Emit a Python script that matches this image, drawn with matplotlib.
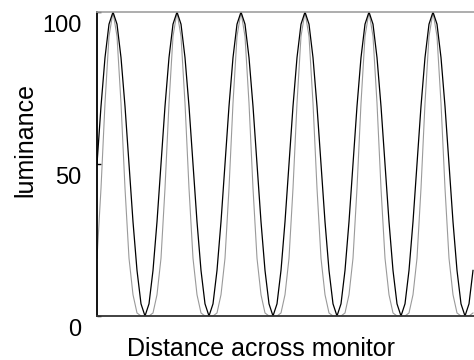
import matplotlib
matplotlib.use("Agg")
import matplotlib.pyplot as plt
import matplotlib.transforms as mtransforms
import numpy as np

plt.rcParams['font.family'] = ['Liberation Sans', 'DejaVu Sans']

# sample positions across the monitor (arbitrary distance units, 4 per step)
distance = np.arange(0, 380, 4)

# luminance of the linear (black) profile
lum_black = [
    50, 69, 85, 96, 100, 96, 85, 69, 50, 31, 15, 4, 0, 4, 15, 31,
    50, 69, 85, 96, 100, 96, 85, 69, 50, 31, 15, 4, 0, 4, 15, 31,
    50, 69, 85, 96, 100, 96, 85, 69, 50, 31, 15, 4, 0, 4, 15, 31,
    50, 69, 85, 96, 100, 96, 85, 69, 50, 31, 15, 4, 0, 4, 15, 31,
    50, 69, 85, 96, 100, 96, 85, 69, 50, 31, 15, 4, 0, 4, 15, 31,
    50, 69, 85, 96, 100, 96, 85, 69, 50, 31, 15, 4, 0, 4, 15,
]

# luminance of the gamma-distorted (gray) profile
lum_gray = [
    19, 42, 70, 92, 100, 92, 70, 42, 19, 7, 1, 0, 0, 0, 1, 7,
    19, 42, 70, 92, 100, 92, 70, 42, 19, 7, 1, 0, 0, 0, 1, 7,
    19, 42, 70, 92, 100, 92, 70, 42, 19, 7, 1, 0, 0, 0, 1, 7,
    19, 42, 70, 92, 100, 92, 70, 42, 19, 7, 1, 0, 0, 0, 1, 7,
    19, 42, 70, 92, 100, 92, 70, 42, 19, 7, 1, 0, 0, 0, 1, 7,
    19, 42, 70, 92, 100, 92, 70, 42, 19, 7, 1, 0, 0, 0, 1,
]

yticks = [0, 50, 100]
ytick_labels = ["0", "50", "100"]

W, H = 474, 360
fig = plt.figure(figsize=(W / 100, H / 100), dpi=100)
ax = fig.add_axes([97 / W, 1 - 316 / H, 377 / W, 304 / H])

ax.plot(distance[:len(lum_gray)], lum_gray, color="#9a9a9a", lw=0.8, clip_on=True)
ax.plot(distance[:len(lum_black)], lum_black, color="black", lw=0.9, clip_on=True)

ax.set_xlim(0, 377)
ax.set_ylim(0, 100)
ax.set_xticks([])
ax.set_yticks(yticks)
ax.set_yticklabels(ytick_labels, fontsize=17)
ax.tick_params(axis='y', direction='in', length=3, width=1, pad=11, color='black')

ax.spines['right'].set_visible(False)
ax.spines['top'].set_color('#a0a0a0')
ax.spines['top'].set_linewidth(1.2)
ax.spines['left'].set_color('black')
ax.spines['left'].set_linewidth(1.3)
ax.spines['bottom'].set_color('#333333')
ax.spines['bottom'].set_linewidth(1.3)

offset = mtransforms.ScaledTranslation(0, -11 / 100, fig.dpi_scale_trans)
for lab in ax.get_yticklabels():
    lab.set_transform(lab.get_transform() + offset)

fig.text(261 / W, 1 - 356 / H, "Distance across monitor", ha='center', va='baseline', fontsize=18)
fig.text(25 / W, 1 - 140 / H, "luminance", ha='center', va='center', rotation=90, fontsize=18)

fig.savefig("out.png", dpi=100)
